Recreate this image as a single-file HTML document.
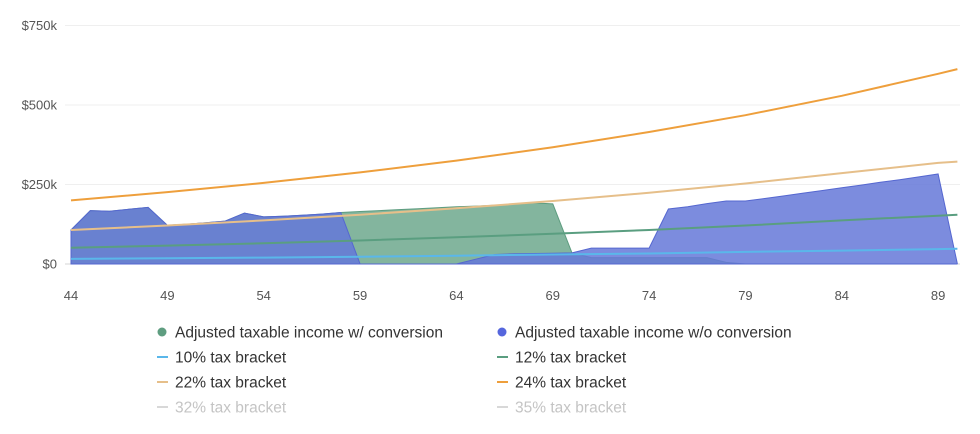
<!DOCTYPE html>
<html><head><meta charset="utf-8">
<style>
body{margin:0;background:#fff;width:980px;height:429px;overflow:hidden;font-family:"Liberation Sans",sans-serif;}
svg text{font-family:"Liberation Sans",sans-serif;}
</style></head>
<body>
<svg id="chart" width="980" height="429" viewBox="0 0 980 429" xmlns="http://www.w3.org/2000/svg">
<g id="grid"></g>
<g id="areas"></g>
<g id="lines"></g>
<g id="axes"></g>
<g id="legend"></g>
</svg>
<script>
const ages = [];
for (let a = 44; a <= 90; a++) ages.push(a);
const withConversion = [107,168,166,172,178,122,125,130,135,160,148,150,153,157,162,165,168,171,174,177,180,182,185,188,192,189,35,20,20,20,20,20,20,20,5,0,0,0,0,0,0,0,0,0,0,0,0];
const withoutConversion = [107,168,166,172,178,122,125,130,135,160,148,150,153,157,162,0,0,0,0,0,0,15,30,32,33,34,35,50,50,50,50,173,180,190,198,198,206,214,223,231,240,248,257,265,274,283,0];
const bracketAges = [44,49,54,59,64,69,74,79,84,89,90];
const bracket10 = [16,18,20,23,26,30,33,38,42,47,48];
const bracket12 = [51,58,65,74,84,95,107,121,137,152,155];
const bracket22 = [107,121,137,155,175,198,224,253,286,318,322];
const bracket24 = [200,226,255,288,325,367,415,468,529,598,613];
const yTicks = [0,250,500,750];
const yTickLabels = ["$0","$250k","$500k","$750k"];
const xTicks = [44,49,54,59,64,69,74,79,84,89];

const NS = "http://www.w3.org/2000/svg";
const xs = a => 71 + (a - 44) * 19.27;
const ys = v => 264 - v * (238.5 / 750);
function mk(tag, attrs, parent) {
  const e = document.createElementNS(NS, tag);
  for (const k in attrs) e.setAttribute(k, attrs[k]);
  parent.appendChild(e);
  return e;
}
const grid = document.getElementById('grid');
const axes = document.getElementById('axes');
yTicks.forEach((v, i) => {
  const l = mk('line', {x1: 65, x2: 960, y1: ys(v), y2: ys(v), stroke: v === 0 ? '#d5d5d5' : '#efefef', 'stroke-width': 1}, grid);
  
  
  const t = mk('text', {x: 57, y: ys(v) + 4.5, 'text-anchor': 'end', 'font-size': 13, fill: '#555'}, axes);
  t.textContent = yTickLabels[i];
  
  
});
xTicks.forEach(a => {
  const t = mk('text', {x: xs(a), y: 300, 'text-anchor': 'middle', 'font-size': 13, fill: '#555'}, axes);
  t.textContent = a;
  
  
});
function areaPath(vals) {
  let d = 'M' + xs(ages[0]) + ',' + ys(0);
  vals.forEach((v, i) => { d += ' L' + xs(ages[i]).toFixed(1) + ',' + ys(v).toFixed(1); });
  d += ' L' + xs(ages[ages.length - 1]) + ',' + ys(0) + ' Z';
  return d;
}
const areas = document.getElementById('areas');
const g1 = mk('path', {d: areaPath(withConversion), fill: '#75ad93', 'fill-opacity': 0.9, stroke: '#5e9d80', 'stroke-width': 1}, areas);


const b1 = mk('path', {d: areaPath(withoutConversion), fill: '#6578d8', 'fill-opacity': 0.85, stroke: '#5567d0', 'stroke-width': 1}, areas);


const lines = document.getElementById('lines');
[[bracket10,'#5ab7ea','line-10-bracket'],[bracket12,'#5a9e80','line-12-bracket'],[bracket22,'#e6bf8a','line-22-bracket'],[bracket24,'#ee9f3c','line-24-bracket']].forEach(s => {
  const pts = s[0].map((v, i) => xs(bracketAges[i]).toFixed(1) + ',' + ys(v).toFixed(1)).join(' ');
  const p = mk('polyline', {points: pts, fill: 'none', stroke: s[1], 'stroke-width': 2}, lines);
  
  
});
const legend = document.getElementById('legend');
const items = [
  [162,332,'dot','#5e9d80','Adjusted taxable income w/ conversion','#333'],
  [502,332,'dot','#5566dd','Adjusted taxable income w/o conversion','#333'],
  [162,357,'line','#5ab7ea','10% tax bracket','#333'],
  [502,357,'line','#5a9e80','12% tax bracket','#333'],
  [162,382,'line','#e6bf8a','22% tax bracket','#333'],
  [502,382,'line','#ee9f3c','24% tax bracket','#333'],
  [162,407,'line','#d8d8d8','32% tax bracket','#c4c4c4'],
  [502,407,'line','#d8d8d8','35% tax bracket','#c4c4c4']
];
items.forEach(it => {
  const g = mk('g', {}, legend);
  
  
  if (it[2] === 'dot') mk('circle', {cx: it[0], cy: it[1], r: 4.5, fill: it[3]}, g);
  else mk('line', {x1: it[0] - 5, x2: it[0] + 6, y1: it[1], y2: it[1], stroke: it[3], 'stroke-width': 2}, g);
  const t = mk('text', {x: it[0] + 13, y: it[1] + 5.5, 'font-size': 15.5, fill: it[5]}, g);
  t.textContent = it[4];
});
</script>
</body></html>
